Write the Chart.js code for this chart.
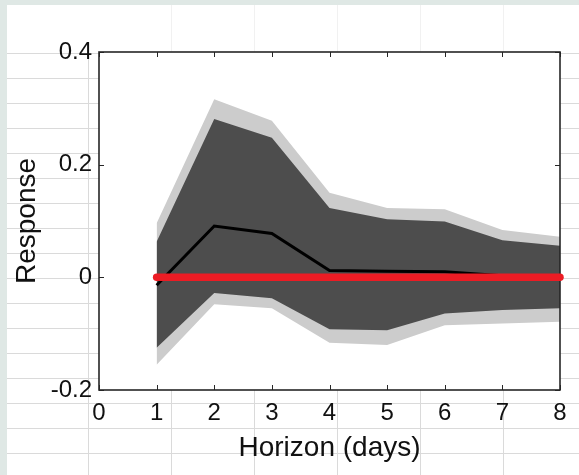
<!DOCTYPE html>
<html>
<head>
<meta charset="utf-8">
<script src="https://cdn.jsdelivr.net/npm/chart.js@4.4.1/dist/chart.umd.min.js"></script>
<style>
  html, body { margin: 0; padding: 0; background: #fff; }
  canvas { display: block; }
</style>
</head>
<body>
<canvas id="irfChart" width="579" height="475"></canvas>
<script>
// impulse response
const horizon = [1, 2, 3, 4, 5, 6, 7, 8];
const median = [-0.014, 0.091, 0.078, 0.012, 0.011, 0.010, 0.003, 0.001];
const innerUpper = [0.063, 0.281, 0.248, 0.123, 0.103, 0.099, 0.066, 0.056];
const innerLower = [-0.125, -0.028, -0.037, -0.092, -0.094, -0.064, -0.058, -0.055];
const outerUpper = [0.096, 0.316, 0.278, 0.150, 0.123, 0.121, 0.084, 0.072];
const outerLower = [-0.155, -0.048, -0.055, -0.116, -0.120, -0.085, -0.082, -0.079];
const zeroLine = [0, 0, 0, 0, 0, 0, 0, 0];

const xTicks = [0, 1, 2, 3, 4, 5, 6, 7, 8];
const yTicks = [-0.2, 0, 0.2, 0.4];
const yTickLabels = ['-0.2', '0', '0.2', '0.4'];

const toPoints = (values) => horizon.map((h, i) => ({ x: h, y: values[i] }));
const textFont = '"Liberation Sans", Arial, Helvetica, sans-serif';

// spreadsheet cells behind the figure
const sheetBackground = {
  id: 'sheetBackground',
  beforeDraw(chart) {
    const { ctx, width, height, chartArea } = chart;
    ctx.save();
    ctx.fillStyle = '#ffffff';
    ctx.fillRect(0, 0, width, height);
    ctx.fillStyle = '#dfe8e5';
    ctx.fillRect(0, 0, width, 5);
    ctx.fillRect(0, 0, 7, height);
    ctx.lineWidth = 1;
    // very faint column lines above the figure
    ctx.strokeStyle = '#f1f1f1';
    ctx.beginPath();
    for (let x = 171.5; x < width; x += 83) {
      ctx.moveTo(x, 5);
      ctx.lineTo(x, 53);
    }
    ctx.stroke();
    ctx.strokeStyle = '#dadada';
    ctx.beginPath();
    for (let y = 53.5; y < height; y += 25) {
      ctx.moveTo(7, y);
      ctx.lineTo(width, y);
    }
    for (let x = 88.5; x < width; x += 83) {
      ctx.moveTo(x, 53.5);
      ctx.lineTo(x, height);
    }
    ctx.stroke();
    ctx.fillStyle = '#ffffff';
    ctx.fillRect(chartArea.left, chartArea.top, chartArea.right - chartArea.left, chartArea.bottom - chartArea.top);
    ctx.restore();
  }
};

// box with inward ticks, drawn just before the red zero line
const matlabBox = {
  id: 'matlabBox',
  afterDatasetDraw(chart, args) {
    if (args.index !== 1) return;
    const { ctx, chartArea: a, scales: { x, y } } = chart;
    ctx.save();
    ctx.strokeStyle = '#262626';
    ctx.lineWidth = 1;
    ctx.beginPath();
    xTicks.forEach((v) => {
      const px = Math.round(x.getPixelForValue(v)) + 0.5;
      ctx.moveTo(px, a.top);
      ctx.lineTo(px, a.top + 5);
      ctx.moveTo(px, a.bottom);
      ctx.lineTo(px, a.bottom - 5);
    });
    yTicks.forEach((v) => {
      const py = Math.round(y.getPixelForValue(v)) + 0.5;
      ctx.moveTo(a.left, py);
      ctx.lineTo(a.left + 5, py);
      ctx.moveTo(a.right, py);
      ctx.lineTo(a.right - 5, py);
    });
    ctx.stroke();
    ctx.lineWidth = 1.6;
    ctx.strokeRect(a.left, a.top, a.right - a.left, a.bottom - a.top);
    ctx.restore();
  }
};

const noBorder = 'rgba(0,0,0,0)';

new Chart(document.getElementById('irfChart'), {
  type: 'line',
  data: {
    datasets: [
      { label: 'Zero', data: toPoints(zeroLine), borderColor: '#ec1c24', borderWidth: 7.5,
        borderCapStyle: 'round', pointRadius: 0, fill: false, clip: false },
      { label: 'Median', data: toPoints(median), borderColor: '#000000', borderWidth: 3,
        pointRadius: 0, fill: false },
      { label: 'Inner upper', data: toPoints(innerUpper), borderColor: noBorder, borderWidth: 0,
        pointRadius: 0, backgroundColor: '#4d4d4d', fill: '+1' },
      { label: 'Inner lower', data: toPoints(innerLower), borderColor: noBorder, borderWidth: 0,
        pointRadius: 0, fill: false },
      { label: 'Outer upper', data: toPoints(outerUpper), borderColor: noBorder, borderWidth: 0,
        pointRadius: 0, backgroundColor: '#cccccc', fill: '+1' },
      { label: 'Outer lower', data: toPoints(outerLower), borderColor: noBorder, borderWidth: 0,
        pointRadius: 0, fill: false }
    ]
  },
  options: {
    responsive: false,
    animation: false,
    devicePixelRatio: 1,
    layout: { padding: { top: 52, right: 19, left: 0, bottom: 0 } },
    plugins: {
      legend: { display: false },
      tooltip: { enabled: false }
    },
    scales: {
      x: {
        type: 'linear',
        min: 0,
        max: 8,
        grid: { display: false, drawTicks: false },
        border: { display: false },
        afterFit: (scale) => { scale.height = 85; },
        afterBuildTicks: (scale) => { scale.ticks = xTicks.map((v) => ({ value: v })); },
        ticks: {
          padding: 9,
          color: '#111111',
          font: { family: textFont, size: 24 },
          maxRotation: 0,
          autoSkip: false
        },
        title: {
          display: true,
          text: 'Horizon (days)',
          color: '#111111',
          font: { family: textFont, size: 28 },
          padding: { top: 0, bottom: 10 }
        }
      },
      y: {
        type: 'linear',
        min: -0.2,
        max: 0.4,
        grid: { display: false, drawTicks: false },
        border: { display: false },
        afterFit: (scale) => { scale.width = 99; },
        afterBuildTicks: (scale) => { scale.ticks = yTicks.map((v) => ({ value: v })); },
        ticks: {
          padding: 7,
          color: '#111111',
          font: { family: textFont, size: 24 },
          callback: (value) => {
            const i = yTicks.findIndex((t) => Math.abs(t - value) < 1e-9);
            return i >= 0 ? yTickLabels[i] : '';
          }
        },
        title: {
          display: true,
          text: 'Response',
          color: '#111111',
          font: { family: textFont, size: 28 },
          padding: { top: 10, bottom: 0 }
        }
      }
    }
  },
  plugins: [sheetBackground, matlabBox]
});
</script>
</body>
</html>
